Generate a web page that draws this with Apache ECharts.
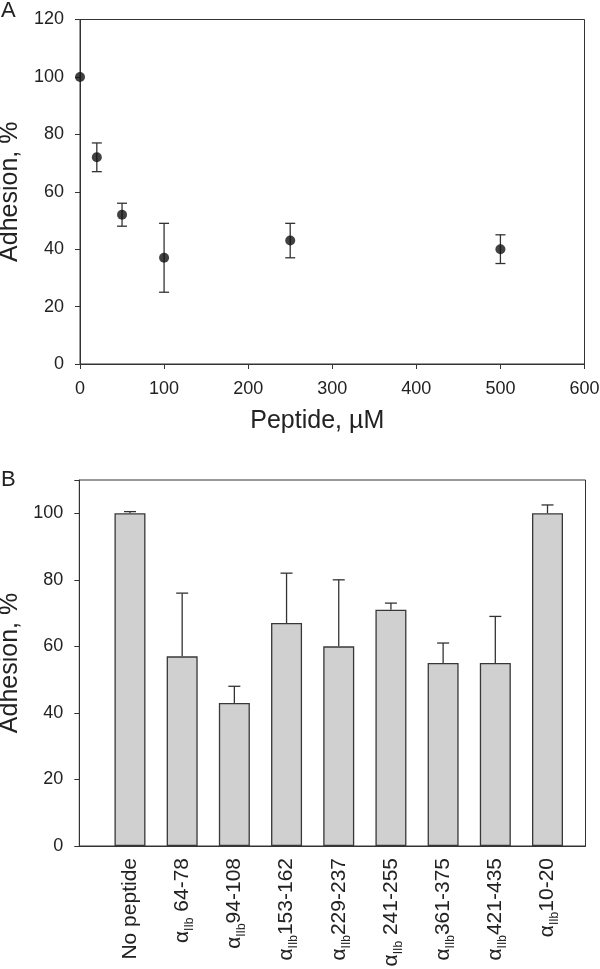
<!DOCTYPE html>
<html>
<head>
<meta charset="utf-8">
<script src="https://cdn.jsdelivr.net/npm/echarts@6/dist/echarts.min.js"></script>
<style>html,body{margin:0;padding:0;background:#fff}#c{width:600px;height:969px}</style>
</head>
<body>
<div id="c"></div>
<script>
// Panel A data
var peptideConc = [0, 20, 50, 100, 250, 500];
var adhesionA = [100, 72, 52, 37, 43, 40];
var errA = [0, 5, 4, 12, 6, 5];

// Panel B data
var peptideNames = ['No peptide', ' 64-78', '94-108', '153-162', '229-237', ' 241-255', '361-375', '421-435', '10-20'];
var hasAlpha = [false, true, true, true, true, true, true, true, true];
var adhesionB = [100, 57, 43, 67, 60, 71, 55, 55, 100];
var errB = [0.5, 19, 5, 15, 20, 2, 6, 14, 2.5];

var FONT = 'Liberation Sans, Arial, sans-serif';
var AX = '#333';
var TXT = '#222';

var chart = echarts.init(document.getElementById('c'), null, {renderer: 'canvas'});

var scatterData = peptideConc.map(function (x, i) { return [x, adhesionA[i]]; });
var errAData = peptideConc.map(function (x, i) { return [x, adhesionA[i] - errA[i], adhesionA[i] + errA[i]]; });
var barData = adhesionB.map(function (v, i) { return [i, v]; });
var errBData = adhesionB.map(function (v, i) { return [i, v, v + errB[i]]; });

function errRender(capHalf, lowerToo) {
  return function (params, api) {
    if (api.value(2) === api.value(1)) return {type: 'group', children: []};
    var x = api.value(0);
    var lo = api.coord([x, api.value(1)]);
    var hi = api.coord([x, api.value(2)]);
    var st = {stroke: AX, lineWidth: 1.3};
    var children = [
      {type: 'line', shape: {x1: hi[0], y1: hi[1], x2: lo[0], y2: lo[1]}, style: st},
      {type: 'line', shape: {x1: hi[0] - capHalf, y1: hi[1], x2: hi[0] + capHalf, y2: hi[1]}, style: st}
    ];
    if (lowerToo) {
      children.push({type: 'line', shape: {x1: lo[0] - capHalf, y1: lo[1], x2: lo[0] + capHalf, y2: lo[1]}, style: st});
    }
    return {type: 'group', children: children};
  };
}

var option = {
  animation: false,
  backgroundColor: '#fff',
  textStyle: {fontFamily: FONT},
  graphic: [
    {type: 'text', left: 1, top: 0, style: {text: 'A', font: '22px ' + FONT, fill: TXT}},
    {type: 'text', left: 1, top: 469, style: {text: 'B', font: '22px ' + FONT, fill: TXT}}
  ],
  grid: [
    {left: 80, top: 19.5, width: 504.5, height: 344.5, containLabel: false, outerBoundsMode: 'none',
      show: true, borderColor: AX, borderWidth: 1, backgroundColor: 'transparent'},
    {left: 79.3, top: 480, width: 506.2, height: 366, containLabel: false, outerBoundsMode: 'none',
      show: true, borderColor: AX, borderWidth: 1, backgroundColor: 'transparent'}
  ],
  xAxis: [
    {
      type: 'value', gridIndex: 0, min: 0, max: 600, interval: 100,
      name: 'Peptide, µM', nameLocation: 'middle', nameGap: 45,
      nameTextStyle: {fontSize: 25, color: TXT, fontFamily: FONT, padding: [0, 30, 0, 0]},
      axisLine: {show: true, onZero: false, lineStyle: {color: AX, width: 1}},
      axisTick: {show: true, inside: false, length: 5, lineStyle: {color: AX}},
      axisLabel: {fontSize: 18, color: TXT, margin: 16, fontFamily: FONT},
      splitLine: {show: false}
    },
    {
      type: 'value', gridIndex: 1, min: -0.971, max: 8.728,
      axisLine: {show: true, onZero: false, lineStyle: {color: AX, width: 1}},
      axisTick: {show: false},
      splitLine: {show: false},
      axisLabel: {
        show: true,
        customValues: [0, 1, 2, 3, 4, 5, 6, 7, 8],
        rotate: 90, margin: 12,
        color: TXT, fontFamily: FONT,
        formatter: function (v) {
          var i = Math.round(v);
          if (!hasAlpha[i]) return '{a|' + peptideNames[i] + '}';
          return '{a|α}{s|IIb}{a|' + peptideNames[i] + '}';
        },
        rich: {
          a: {fontSize: 21, color: TXT, fontFamily: FONT, lineHeight: 22, verticalAlign: 'middle'},
          s: {fontSize: 12, color: TXT, fontFamily: FONT, lineHeight: 27, verticalAlign: 'bottom'}
        }
      }
    }
  ],
  yAxis: [
    {
      type: 'value', gridIndex: 0, min: 0, max: 120, interval: 20,
      name: 'Adhesion, %', nameLocation: 'middle', nameGap: 50,
      nameTextStyle: {fontSize: 25, color: TXT, fontFamily: FONT},
      axisLine: {show: true, onZero: false, lineStyle: {color: AX, width: 1}},
      axisTick: {show: true, inside: false, length: 5, lineStyle: {color: AX}},
      axisLabel: {fontSize: 18, color: TXT, margin: 16, fontFamily: FONT},
      splitLine: {show: false}
    },
    {
      type: 'value', gridIndex: 1, min: 0, max: 110, interval: 20,
      name: 'Adhesion, %', nameLocation: 'middle', nameGap: 49,
      nameTextStyle: {fontSize: 25, color: TXT, fontFamily: FONT},
      axisLine: {show: true, onZero: false, lineStyle: {color: AX, width: 1}},
      axisTick: {show: true, inside: false, length: 5, lineStyle: {color: AX}},
      axisLabel: {fontSize: 18, color: TXT, margin: 16, fontFamily: FONT,
        formatter: function (v) { return v > 100 ? '' : String(v); }},
      splitLine: {show: false}
    }
  ],
  series: [
    {
      type: 'custom', xAxisIndex: 0, yAxisIndex: 0, data: errAData,
      renderItem: errRender(5, true), clip: false, z: 2
    },
    {
      type: 'scatter', xAxisIndex: 0, yAxisIndex: 0, data: scatterData,
      symbol: 'circle', symbolSize: 10, clip: false,
      itemStyle: {color: '#111'}, z: 3
    },
    {
      type: 'custom', xAxisIndex: 1, yAxisIndex: 1, data: errBData,
      renderItem: errRender(6, false), clip: false, z: 1
    },
    {
      type: 'bar', xAxisIndex: 1, yAxisIndex: 1, data: barData,
      barWidth: 31,
      itemStyle: {color: '#d0d0d0', borderColor: '#383838', borderWidth: 1.3}, z: 2
    }
  ]
};
chart.setOption(option);
</script>
</body>
</html>
